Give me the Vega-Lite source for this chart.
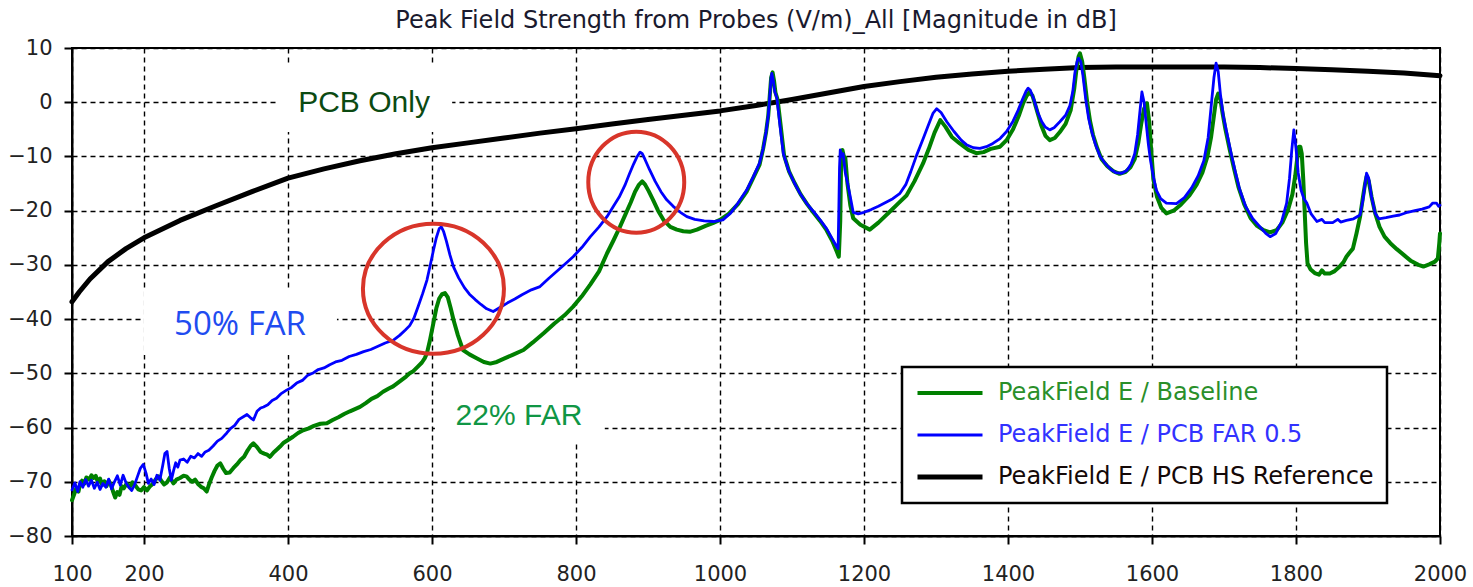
{
"$schema": "https://vega.github.io/schema/vega-lite/v6.json",
"width": 1368, "height": 488,
"autosize": {"type": "none"},
"padding": {"left": 72, "top": 48, "right": 33, "bottom": 51},
"background": "white",
"title": {"text": "Peak Field Strength from Probes (V/m)_All [Magnitude in dB]", "font": "DejaVu Sans", "fontSize": 24, "fontWeight": "normal", "color": "#1a1a2e", "anchor": "middle", "offset": 4},
"config": {
  "view": {"stroke": "#000", "strokeWidth": 2}
},
"datasets": {
"lines": [
{"s":"PeakField E / PCB HS Reference","f":100,"v":-36.8},{"s":"PeakField E / PCB HS Reference","f":110,"v":-35},{"s":"PeakField E / PCB HS Reference","f":125,"v":-32.6},{"s":"PeakField E / PCB HS Reference","f":150,"v":-29.4},{"s":"PeakField E / PCB HS Reference","f":175,"v":-27},{"s":"PeakField E / PCB HS Reference","f":200,"v":-25},{"s":"PeakField E / PCB HS Reference","f":250,"v":-21.8},{"s":"PeakField E / PCB HS Reference","f":300,"v":-19.1},{"s":"PeakField E / PCB HS Reference","f":350,"v":-16.5},{"s":"PeakField E / PCB HS Reference","f":400,"v":-14},{"s":"PeakField E / PCB HS Reference","f":450,"v":-12.3},{"s":"PeakField E / PCB HS Reference","f":500,"v":-10.8},{"s":"PeakField E / PCB HS Reference","f":550,"v":-9.5},{"s":"PeakField E / PCB HS Reference","f":600,"v":-8.4},{"s":"PeakField E / PCB HS Reference","f":650,"v":-7.5},{"s":"PeakField E / PCB HS Reference","f":700,"v":-6.6},{"s":"PeakField E / PCB HS Reference","f":750,"v":-5.7},{"s":"PeakField E / PCB HS Reference","f":800,"v":-4.9},{"s":"PeakField E / PCB HS Reference","f":850,"v":-4},{"s":"PeakField E / PCB HS Reference","f":900,"v":-3.2},{"s":"PeakField E / PCB HS Reference","f":950,"v":-2.4},{"s":"PeakField E / PCB HS Reference","f":1000,"v":-1.6},{"s":"PeakField E / PCB HS Reference","f":1050,"v":-0.6},{"s":"PeakField E / PCB HS Reference","f":1100,"v":0.5},{"s":"PeakField E / PCB HS Reference","f":1150,"v":1.7},{"s":"PeakField E / PCB HS Reference","f":1200,"v":2.9},{"s":"PeakField E / PCB HS Reference","f":1250,"v":3.8},{"s":"PeakField E / PCB HS Reference","f":1300,"v":4.6},{"s":"PeakField E / PCB HS Reference","f":1350,"v":5.2},{"s":"PeakField E / PCB HS Reference","f":1400,"v":5.7},{"s":"PeakField E / PCB HS Reference","f":1450,"v":6.1},{"s":"PeakField E / PCB HS Reference","f":1500,"v":6.4},{"s":"PeakField E / PCB HS Reference","f":1550,"v":6.5},{"s":"PeakField E / PCB HS Reference","f":1600,"v":6.5},{"s":"PeakField E / PCB HS Reference","f":1650,"v":6.5},{"s":"PeakField E / PCB HS Reference","f":1700,"v":6.5},{"s":"PeakField E / PCB HS Reference","f":1750,"v":6.4},{"s":"PeakField E / PCB HS Reference","f":1800,"v":6.2},{"s":"PeakField E / PCB HS Reference","f":1850,"v":6},{"s":"PeakField E / PCB HS Reference","f":1900,"v":5.7},{"s":"PeakField E / PCB HS Reference","f":1950,"v":5.4},{"s":"PeakField E / PCB HS Reference","f":2000,"v":4.9},

{"s":"PeakField E / Baseline","f":100,"v":-73.4},{"s":"PeakField E / Baseline","f":103,"v":-72.3},{"s":"PeakField E / Baseline","f":106,"v":-71.2},{"s":"PeakField E / Baseline","f":109,"v":-71.8},{"s":"PeakField E / Baseline","f":111,"v":-70.6},{"s":"PeakField E / Baseline","f":114,"v":-69.8},{"s":"PeakField E / Baseline","f":117,"v":-70.4},{"s":"PeakField E / Baseline","f":120,"v":-69.2},{"s":"PeakField E / Baseline","f":124,"v":-69.6},{"s":"PeakField E / Baseline","f":127,"v":-68.8},{"s":"PeakField E / Baseline","f":130,"v":-69.3},{"s":"PeakField E / Baseline","f":133,"v":-68.9},{"s":"PeakField E / Baseline","f":136,"v":-70.1},{"s":"PeakField E / Baseline","f":139,"v":-69.4},{"s":"PeakField E / Baseline","f":142,"v":-70.6},{"s":"PeakField E / Baseline","f":145,"v":-69.9},{"s":"PeakField E / Baseline","f":148,"v":-70.8},{"s":"PeakField E / Baseline","f":151,"v":-69.8},{"s":"PeakField E / Baseline","f":154,"v":-70.5},{"s":"PeakField E / Baseline","f":157,"v":-71.8},{"s":"PeakField E / Baseline","f":160,"v":-72.9},{"s":"PeakField E / Baseline","f":163,"v":-71.9},{"s":"PeakField E / Baseline","f":166,"v":-72.4},{"s":"PeakField E / Baseline","f":169,"v":-70.8},{"s":"PeakField E / Baseline","f":172,"v":-71.2},{"s":"PeakField E / Baseline","f":176,"v":-70.3},{"s":"PeakField E / Baseline","f":180,"v":-71},{"s":"PeakField E / Baseline","f":184,"v":-70.1},{"s":"PeakField E / Baseline","f":188,"v":-70.7},{"s":"PeakField E / Baseline","f":192,"v":-71.4},{"s":"PeakField E / Baseline","f":196,"v":-71.6},{"s":"PeakField E / Baseline","f":200,"v":-71},{"s":"PeakField E / Baseline","f":204,"v":-71.6},{"s":"PeakField E / Baseline","f":208,"v":-70.9},{"s":"PeakField E / Baseline","f":212,"v":-70.4},{"s":"PeakField E / Baseline","f":216,"v":-69.6},{"s":"PeakField E / Baseline","f":220,"v":-69},{"s":"PeakField E / Baseline","f":224,"v":-69.8},{"s":"PeakField E / Baseline","f":228,"v":-70.5},{"s":"PeakField E / Baseline","f":232,"v":-70.1},{"s":"PeakField E / Baseline","f":236,"v":-69.2},{"s":"PeakField E / Baseline","f":241,"v":-70.3},{"s":"PeakField E / Baseline","f":245,"v":-69.6},{"s":"PeakField E / Baseline","f":250,"v":-69.3},{"s":"PeakField E / Baseline","f":255,"v":-68.9},{"s":"PeakField E / Baseline","f":259,"v":-69},{"s":"PeakField E / Baseline","f":263,"v":-69.6},{"s":"PeakField E / Baseline","f":267,"v":-70},{"s":"PeakField E / Baseline","f":271,"v":-69.6},{"s":"PeakField E / Baseline","f":275,"v":-70.4},{"s":"PeakField E / Baseline","f":279,"v":-70.9},{"s":"PeakField E / Baseline","f":283,"v":-71.2},{"s":"PeakField E / Baseline","f":287,"v":-71.8},{"s":"PeakField E / Baseline","f":290,"v":-70.6},{"s":"PeakField E / Baseline","f":294,"v":-69.2},{"s":"PeakField E / Baseline","f":298,"v":-68},{"s":"PeakField E / Baseline","f":302,"v":-67},{"s":"PeakField E / Baseline","f":306,"v":-66.6},{"s":"PeakField E / Baseline","f":310,"v":-67.6},{"s":"PeakField E / Baseline","f":314,"v":-68.4},{"s":"PeakField E / Baseline","f":319,"v":-68.3},{"s":"PeakField E / Baseline","f":324,"v":-67.5},{"s":"PeakField E / Baseline","f":329,"v":-66.8},{"s":"PeakField E / Baseline","f":334,"v":-66},{"s":"PeakField E / Baseline","f":339,"v":-65.4},{"s":"PeakField E / Baseline","f":344,"v":-64.2},{"s":"PeakField E / Baseline","f":348,"v":-63.4},{"s":"PeakField E / Baseline","f":352,"v":-62.9},{"s":"PeakField E / Baseline","f":357,"v":-63.6},{"s":"PeakField E / Baseline","f":362,"v":-64.5},{"s":"PeakField E / Baseline","f":367,"v":-64.8},{"s":"PeakField E / Baseline","f":371,"v":-65},{"s":"PeakField E / Baseline","f":375,"v":-65.4},{"s":"PeakField E / Baseline","f":380,"v":-64.6},{"s":"PeakField E / Baseline","f":385,"v":-64},{"s":"PeakField E / Baseline","f":389,"v":-63.5},{"s":"PeakField E / Baseline","f":394,"v":-62.8},{"s":"PeakField E / Baseline","f":400,"v":-62.3},{"s":"PeakField E / Baseline","f":407,"v":-61.7},{"s":"PeakField E / Baseline","f":414,"v":-61},{"s":"PeakField E / Baseline","f":421,"v":-60.5},{"s":"PeakField E / Baseline","f":428,"v":-60.2},{"s":"PeakField E / Baseline","f":436,"v":-59.7},{"s":"PeakField E / Baseline","f":445,"v":-59.3},{"s":"PeakField E / Baseline","f":454,"v":-59.2},{"s":"PeakField E / Baseline","f":462,"v":-58.6},{"s":"PeakField E / Baseline","f":470,"v":-58.1},{"s":"PeakField E / Baseline","f":478,"v":-57.5},{"s":"PeakField E / Baseline","f":486,"v":-57},{"s":"PeakField E / Baseline","f":493,"v":-56.6},{"s":"PeakField E / Baseline","f":500,"v":-56.2},{"s":"PeakField E / Baseline","f":508,"v":-55.5},{"s":"PeakField E / Baseline","f":516,"v":-54.7},{"s":"PeakField E / Baseline","f":524,"v":-54.2},{"s":"PeakField E / Baseline","f":532,"v":-53.4},{"s":"PeakField E / Baseline","f":540,"v":-52.8},{"s":"PeakField E / Baseline","f":546,"v":-52.4},{"s":"PeakField E / Baseline","f":552,"v":-51.8},{"s":"PeakField E / Baseline","f":558,"v":-51.2},{"s":"PeakField E / Baseline","f":564,"v":-50.6},{"s":"PeakField E / Baseline","f":569,"v":-50},{"s":"PeakField E / Baseline","f":574,"v":-49.6},{"s":"PeakField E / Baseline","f":580,"v":-48.8},{"s":"PeakField E / Baseline","f":586,"v":-48},{"s":"PeakField E / Baseline","f":590,"v":-47.2},{"s":"PeakField E / Baseline","f":593,"v":-46.3},{"s":"PeakField E / Baseline","f":597,"v":-44},{"s":"PeakField E / Baseline","f":602,"v":-40.7},{"s":"PeakField E / Baseline","f":606,"v":-38},{"s":"PeakField E / Baseline","f":610,"v":-36.2},{"s":"PeakField E / Baseline","f":614,"v":-35.4},{"s":"PeakField E / Baseline","f":618,"v":-35.2},{"s":"PeakField E / Baseline","f":622,"v":-36},{"s":"PeakField E / Baseline","f":626,"v":-38},{"s":"PeakField E / Baseline","f":630,"v":-40.2},{"s":"PeakField E / Baseline","f":636,"v":-43},{"s":"PeakField E / Baseline","f":643,"v":-45.7},{"s":"PeakField E / Baseline","f":652,"v":-46.5},{"s":"PeakField E / Baseline","f":662,"v":-47.2},{"s":"PeakField E / Baseline","f":672,"v":-47.9},{"s":"PeakField E / Baseline","f":681,"v":-48.2},{"s":"PeakField E / Baseline","f":690,"v":-47.9},{"s":"PeakField E / Baseline","f":700,"v":-47.3},{"s":"PeakField E / Baseline","f":712,"v":-46.6},{"s":"PeakField E / Baseline","f":727,"v":-45.7},{"s":"PeakField E / Baseline","f":740,"v":-44.3},{"s":"PeakField E / Baseline","f":755,"v":-42.6},{"s":"PeakField E / Baseline","f":770,"v":-40.8},{"s":"PeakField E / Baseline","f":784,"v":-39.3},{"s":"PeakField E / Baseline","f":796,"v":-37.7},{"s":"PeakField E / Baseline","f":808,"v":-35.8},{"s":"PeakField E / Baseline","f":820,"v":-33.6},{"s":"PeakField E / Baseline","f":832,"v":-31.2},{"s":"PeakField E / Baseline","f":843,"v":-27.9},{"s":"PeakField E / Baseline","f":852,"v":-25.5},{"s":"PeakField E / Baseline","f":861,"v":-23},{"s":"PeakField E / Baseline","f":869,"v":-20.6},{"s":"PeakField E / Baseline","f":876,"v":-18.5},{"s":"PeakField E / Baseline","f":882,"v":-16.5},{"s":"PeakField E / Baseline","f":887,"v":-15.3},{"s":"PeakField E / Baseline","f":892,"v":-14.6},{"s":"PeakField E / Baseline","f":896,"v":-15.2},{"s":"PeakField E / Baseline","f":901,"v":-16.4},{"s":"PeakField E / Baseline","f":907,"v":-18},{"s":"PeakField E / Baseline","f":914,"v":-20},{"s":"PeakField E / Baseline","f":922,"v":-21.8},{"s":"PeakField E / Baseline","f":931,"v":-23},{"s":"PeakField E / Baseline","f":940,"v":-23.5},{"s":"PeakField E / Baseline","f":949,"v":-23.8},{"s":"PeakField E / Baseline","f":958,"v":-23.9},{"s":"PeakField E / Baseline","f":968,"v":-23.5},{"s":"PeakField E / Baseline","f":980,"v":-22.8},{"s":"PeakField E / Baseline","f":990,"v":-22.3},{"s":"PeakField E / Baseline","f":1000,"v":-21.7},{"s":"PeakField E / Baseline","f":1012,"v":-20.6},{"s":"PeakField E / Baseline","f":1025,"v":-18.8},{"s":"PeakField E / Baseline","f":1037,"v":-16.5},{"s":"PeakField E / Baseline","f":1046,"v":-14},{"s":"PeakField E / Baseline","f":1055,"v":-11.5},{"s":"PeakField E / Baseline","f":1060,"v":-8.5},{"s":"PeakField E / Baseline","f":1064,"v":-5.5},{"s":"PeakField E / Baseline","f":1067,"v":-2.5},{"s":"PeakField E / Baseline","f":1069,"v":1},{"s":"PeakField E / Baseline","f":1071,"v":4.5},{"s":"PeakField E / Baseline","f":1073,"v":5.5},{"s":"PeakField E / Baseline","f":1075,"v":4},{"s":"PeakField E / Baseline","f":1077,"v":1.8},{"s":"PeakField E / Baseline","f":1080,"v":0.5},{"s":"PeakField E / Baseline","f":1084,"v":-4},{"s":"PeakField E / Baseline","f":1089,"v":-9.8},{"s":"PeakField E / Baseline","f":1096,"v":-12.8},{"s":"PeakField E / Baseline","f":1104,"v":-15},{"s":"PeakField E / Baseline","f":1112,"v":-17},{"s":"PeakField E / Baseline","f":1121,"v":-18.8},{"s":"PeakField E / Baseline","f":1130,"v":-20.4},{"s":"PeakField E / Baseline","f":1139,"v":-21.9},{"s":"PeakField E / Baseline","f":1148,"v":-23.6},{"s":"PeakField E / Baseline","f":1156,"v":-25.6},{"s":"PeakField E / Baseline","f":1162,"v":-27.5},{"s":"PeakField E / Baseline","f":1165,"v":-28.5},{"s":"PeakField E / Baseline","f":1167,"v":-22},{"s":"PeakField E / Baseline","f":1168,"v":-13},{"s":"PeakField E / Baseline","f":1170,"v":-8.8},{"s":"PeakField E / Baseline","f":1172,"v":-10},{"s":"PeakField E / Baseline","f":1174,"v":-10.2},{"s":"PeakField E / Baseline","f":1177,"v":-15},{"s":"PeakField E / Baseline","f":1181,"v":-19},{"s":"PeakField E / Baseline","f":1185,"v":-21.4},{"s":"PeakField E / Baseline","f":1195,"v":-22.6},{"s":"PeakField E / Baseline","f":1208,"v":-23.5},{"s":"PeakField E / Baseline","f":1220,"v":-22.2},{"s":"PeakField E / Baseline","f":1235,"v":-20.3},{"s":"PeakField E / Baseline","f":1248,"v":-18.6},{"s":"PeakField E / Baseline","f":1259,"v":-17.2},{"s":"PeakField E / Baseline","f":1270,"v":-14.6},{"s":"PeakField E / Baseline","f":1282,"v":-11.3},{"s":"PeakField E / Baseline","f":1290,"v":-8.6},{"s":"PeakField E / Baseline","f":1298,"v":-5.6},{"s":"PeakField E / Baseline","f":1306,"v":-3.3},{"s":"PeakField E / Baseline","f":1313,"v":-4.5},{"s":"PeakField E / Baseline","f":1322,"v":-6.4},{"s":"PeakField E / Baseline","f":1333,"v":-7.6},{"s":"PeakField E / Baseline","f":1345,"v":-8.8},{"s":"PeakField E / Baseline","f":1356,"v":-9.4},{"s":"PeakField E / Baseline","f":1366,"v":-9.2},{"s":"PeakField E / Baseline","f":1376,"v":-8.6},{"s":"PeakField E / Baseline","f":1389,"v":-8.2},{"s":"PeakField E / Baseline","f":1398,"v":-7},{"s":"PeakField E / Baseline","f":1407,"v":-5},{"s":"PeakField E / Baseline","f":1415,"v":-2.5},{"s":"PeakField E / Baseline","f":1421,"v":-0.2},{"s":"PeakField E / Baseline","f":1426,"v":1.2},{"s":"PeakField E / Baseline","f":1430,"v":1.9},{"s":"PeakField E / Baseline","f":1434,"v":1.2},{"s":"PeakField E / Baseline","f":1439,"v":-1},{"s":"PeakField E / Baseline","f":1446,"v":-4.2},{"s":"PeakField E / Baseline","f":1452,"v":-6.2},{"s":"PeakField E / Baseline","f":1458,"v":-7},{"s":"PeakField E / Baseline","f":1465,"v":-6.6},{"s":"PeakField E / Baseline","f":1472,"v":-5.5},{"s":"PeakField E / Baseline","f":1480,"v":-4},{"s":"PeakField E / Baseline","f":1487,"v":-1.5},{"s":"PeakField E / Baseline","f":1492,"v":2.5},{"s":"PeakField E / Baseline","f":1495,"v":6},{"s":"PeakField E / Baseline","f":1498,"v":8.4},{"s":"PeakField E / Baseline","f":1500,"v":9},{"s":"PeakField E / Baseline","f":1503,"v":7.5},{"s":"PeakField E / Baseline","f":1506,"v":4.5},{"s":"PeakField E / Baseline","f":1510,"v":0},{"s":"PeakField E / Baseline","f":1514,"v":-3.5},{"s":"PeakField E / Baseline","f":1518,"v":-6},{"s":"PeakField E / Baseline","f":1524,"v":-8.5},{"s":"PeakField E / Baseline","f":1530,"v":-10.5},{"s":"PeakField E / Baseline","f":1538,"v":-11.8},{"s":"PeakField E / Baseline","f":1546,"v":-12.7},{"s":"PeakField E / Baseline","f":1555,"v":-13.2},{"s":"PeakField E / Baseline","f":1563,"v":-12.9},{"s":"PeakField E / Baseline","f":1570,"v":-12},{"s":"PeakField E / Baseline","f":1576,"v":-10.5},{"s":"PeakField E / Baseline","f":1581,"v":-7.5},{"s":"PeakField E / Baseline","f":1585,"v":-4},{"s":"PeakField E / Baseline","f":1589,"v":-1.2},{"s":"PeakField E / Baseline","f":1593,"v":-0.2},{"s":"PeakField E / Baseline","f":1596,"v":-3.5},{"s":"PeakField E / Baseline","f":1599,"v":-9},{"s":"PeakField E / Baseline","f":1602,"v":-14.3},{"s":"PeakField E / Baseline","f":1607,"v":-17.5},{"s":"PeakField E / Baseline","f":1613,"v":-19.5},{"s":"PeakField E / Baseline","f":1620,"v":-20.5},{"s":"PeakField E / Baseline","f":1630,"v":-20},{"s":"PeakField E / Baseline","f":1640,"v":-18.9},{"s":"PeakField E / Baseline","f":1652,"v":-17.2},{"s":"PeakField E / Baseline","f":1662,"v":-15.2},{"s":"PeakField E / Baseline","f":1670,"v":-13},{"s":"PeakField E / Baseline","f":1677,"v":-10},{"s":"PeakField E / Baseline","f":1682,"v":-6.5},{"s":"PeakField E / Baseline","f":1686,"v":-2.5},{"s":"PeakField E / Baseline","f":1689,"v":0.5},{"s":"PeakField E / Baseline","f":1692,"v":1.6},{"s":"PeakField E / Baseline","f":1695,"v":0.5},{"s":"PeakField E / Baseline","f":1698,"v":-2},{"s":"PeakField E / Baseline","f":1702,"v":-5},{"s":"PeakField E / Baseline","f":1708,"v":-8.8},{"s":"PeakField E / Baseline","f":1714,"v":-12.3},{"s":"PeakField E / Baseline","f":1720,"v":-15.6},{"s":"PeakField E / Baseline","f":1728,"v":-18.8},{"s":"PeakField E / Baseline","f":1737,"v":-21.4},{"s":"PeakField E / Baseline","f":1746,"v":-22.8},{"s":"PeakField E / Baseline","f":1755,"v":-23.6},{"s":"PeakField E / Baseline","f":1764,"v":-24},{"s":"PeakField E / Baseline","f":1773,"v":-23.6},{"s":"PeakField E / Baseline","f":1781,"v":-22.2},{"s":"PeakField E / Baseline","f":1789,"v":-19.8},{"s":"PeakField E / Baseline","f":1795,"v":-17},{"s":"PeakField E / Baseline","f":1799,"v":-13.5},{"s":"PeakField E / Baseline","f":1802,"v":-10},{"s":"PeakField E / Baseline","f":1804,"v":-8.2},{"s":"PeakField E / Baseline","f":1806,"v":-8.2},{"s":"PeakField E / Baseline","f":1808,"v":-9.5},{"s":"PeakField E / Baseline","f":1810,"v":-14},{"s":"PeakField E / Baseline","f":1812,"v":-20},{"s":"PeakField E / Baseline","f":1814,"v":-26},{"s":"PeakField E / Baseline","f":1816,"v":-29.7},{"s":"PeakField E / Baseline","f":1820,"v":-30.8},{"s":"PeakField E / Baseline","f":1826,"v":-31.5},{"s":"PeakField E / Baseline","f":1832,"v":-31.8},{"s":"PeakField E / Baseline","f":1836,"v":-31},{"s":"PeakField E / Baseline","f":1840,"v":-31.6},{"s":"PeakField E / Baseline","f":1847,"v":-31.6},{"s":"PeakField E / Baseline","f":1853,"v":-31.2},{"s":"PeakField E / Baseline","f":1860,"v":-30.4},{"s":"PeakField E / Baseline","f":1866,"v":-29.5},{"s":"PeakField E / Baseline","f":1870,"v":-28.5},{"s":"PeakField E / Baseline","f":1874,"v":-27.8},{"s":"PeakField E / Baseline","f":1879,"v":-27},{"s":"PeakField E / Baseline","f":1884,"v":-24.2},{"s":"PeakField E / Baseline","f":1889,"v":-21.1},{"s":"PeakField E / Baseline","f":1893,"v":-17.5},{"s":"PeakField E / Baseline","f":1896,"v":-15},{"s":"PeakField E / Baseline","f":1898,"v":-13.7},{"s":"PeakField E / Baseline","f":1901,"v":-14.5},{"s":"PeakField E / Baseline","f":1905,"v":-17.5},{"s":"PeakField E / Baseline","f":1910,"v":-20.5},{"s":"PeakField E / Baseline","f":1916,"v":-23},{"s":"PeakField E / Baseline","f":1923,"v":-24.8},{"s":"PeakField E / Baseline","f":1931,"v":-26},{"s":"PeakField E / Baseline","f":1940,"v":-27.1},{"s":"PeakField E / Baseline","f":1950,"v":-28.2},{"s":"PeakField E / Baseline","f":1960,"v":-29.3},{"s":"PeakField E / Baseline","f":1970,"v":-30},{"s":"PeakField E / Baseline","f":1977,"v":-30.3},{"s":"PeakField E / Baseline","f":1985,"v":-29.9},{"s":"PeakField E / Baseline","f":1993,"v":-29.4},{"s":"PeakField E / Baseline","f":1997,"v":-28.8},{"s":"PeakField E / Baseline","f":1999,"v":-26},{"s":"PeakField E / Baseline","f":2000,"v":-24.2},

{"s":"PeakField E / PCB FAR 0.5","f":100,"v":-71.5},{"s":"PeakField E / PCB FAR 0.5","f":104,"v":-70.2},{"s":"PeakField E / PCB FAR 0.5","f":108,"v":-71.8},{"s":"PeakField E / PCB FAR 0.5","f":111,"v":-70},{"s":"PeakField E / PCB FAR 0.5","f":115,"v":-71},{"s":"PeakField E / PCB FAR 0.5","f":119,"v":-69.6},{"s":"PeakField E / PCB FAR 0.5","f":123,"v":-70.8},{"s":"PeakField E / PCB FAR 0.5","f":127,"v":-69.7},{"s":"PeakField E / PCB FAR 0.5","f":131,"v":-71.2},{"s":"PeakField E / PCB FAR 0.5","f":135,"v":-70.1},{"s":"PeakField E / PCB FAR 0.5","f":139,"v":-71.4},{"s":"PeakField E / PCB FAR 0.5","f":143,"v":-70.3},{"s":"PeakField E / PCB FAR 0.5","f":147,"v":-71},{"s":"PeakField E / PCB FAR 0.5","f":151,"v":-69.5},{"s":"PeakField E / PCB FAR 0.5","f":155,"v":-71.3},{"s":"PeakField E / PCB FAR 0.5","f":159,"v":-70},{"s":"PeakField E / PCB FAR 0.5","f":163,"v":-68.9},{"s":"PeakField E / PCB FAR 0.5","f":167,"v":-70.6},{"s":"PeakField E / PCB FAR 0.5","f":171,"v":-68.8},{"s":"PeakField E / PCB FAR 0.5","f":175,"v":-70.2},{"s":"PeakField E / PCB FAR 0.5","f":179,"v":-71},{"s":"PeakField E / PCB FAR 0.5","f":183,"v":-71.6},{"s":"PeakField E / PCB FAR 0.5","f":187,"v":-70.5},{"s":"PeakField E / PCB FAR 0.5","f":191,"v":-69},{"s":"PeakField E / PCB FAR 0.5","f":195,"v":-67.5},{"s":"PeakField E / PCB FAR 0.5","f":199,"v":-66.8},{"s":"PeakField E / PCB FAR 0.5","f":203,"v":-68.5},{"s":"PeakField E / PCB FAR 0.5","f":206,"v":-70.3},{"s":"PeakField E / PCB FAR 0.5","f":210,"v":-69.5},{"s":"PeakField E / PCB FAR 0.5","f":214,"v":-70.5},{"s":"PeakField E / PCB FAR 0.5","f":218,"v":-68.8},{"s":"PeakField E / PCB FAR 0.5","f":222,"v":-69.7},{"s":"PeakField E / PCB FAR 0.5","f":226,"v":-67},{"s":"PeakField E / PCB FAR 0.5","f":229,"v":-64.8},{"s":"PeakField E / PCB FAR 0.5","f":232,"v":-64.4},{"s":"PeakField E / PCB FAR 0.5","f":235,"v":-67.5},{"s":"PeakField E / PCB FAR 0.5","f":238,"v":-69.7},{"s":"PeakField E / PCB FAR 0.5","f":241,"v":-68},{"s":"PeakField E / PCB FAR 0.5","f":244,"v":-66.5},{"s":"PeakField E / PCB FAR 0.5","f":247,"v":-67.3},{"s":"PeakField E / PCB FAR 0.5","f":250,"v":-66},{"s":"PeakField E / PCB FAR 0.5","f":255,"v":-65.8},{"s":"PeakField E / PCB FAR 0.5","f":260,"v":-66.4},{"s":"PeakField E / PCB FAR 0.5","f":265,"v":-65.3},{"s":"PeakField E / PCB FAR 0.5","f":270,"v":-65.6},{"s":"PeakField E / PCB FAR 0.5","f":275,"v":-64.8},{"s":"PeakField E / PCB FAR 0.5","f":280,"v":-65.3},{"s":"PeakField E / PCB FAR 0.5","f":285,"v":-64.5},{"s":"PeakField E / PCB FAR 0.5","f":290,"v":-64.2},{"s":"PeakField E / PCB FAR 0.5","f":296,"v":-63.4},{"s":"PeakField E / PCB FAR 0.5","f":302,"v":-62.5},{"s":"PeakField E / PCB FAR 0.5","f":308,"v":-62},{"s":"PeakField E / PCB FAR 0.5","f":315,"v":-61},{"s":"PeakField E / PCB FAR 0.5","f":320,"v":-60.2},{"s":"PeakField E / PCB FAR 0.5","f":326,"v":-59.6},{"s":"PeakField E / PCB FAR 0.5","f":332,"v":-58.5},{"s":"PeakField E / PCB FAR 0.5","f":338,"v":-58},{"s":"PeakField E / PCB FAR 0.5","f":343,"v":-57.6},{"s":"PeakField E / PCB FAR 0.5","f":348,"v":-58.2},{"s":"PeakField E / PCB FAR 0.5","f":352,"v":-58.6},{"s":"PeakField E / PCB FAR 0.5","f":357,"v":-57},{"s":"PeakField E / PCB FAR 0.5","f":362,"v":-56.4},{"s":"PeakField E / PCB FAR 0.5","f":366,"v":-56.2},{"s":"PeakField E / PCB FAR 0.5","f":372,"v":-55.8},{"s":"PeakField E / PCB FAR 0.5","f":378,"v":-55},{"s":"PeakField E / PCB FAR 0.5","f":384,"v":-54.6},{"s":"PeakField E / PCB FAR 0.5","f":390,"v":-53.8},{"s":"PeakField E / PCB FAR 0.5","f":398,"v":-53.1},{"s":"PeakField E / PCB FAR 0.5","f":405,"v":-52.6},{"s":"PeakField E / PCB FAR 0.5","f":412,"v":-51.8},{"s":"PeakField E / PCB FAR 0.5","f":420,"v":-51.3},{"s":"PeakField E / PCB FAR 0.5","f":427,"v":-50.4},{"s":"PeakField E / PCB FAR 0.5","f":434,"v":-50},{"s":"PeakField E / PCB FAR 0.5","f":442,"v":-49.3},{"s":"PeakField E / PCB FAR 0.5","f":450,"v":-49},{"s":"PeakField E / PCB FAR 0.5","f":458,"v":-48.4},{"s":"PeakField E / PCB FAR 0.5","f":466,"v":-47.9},{"s":"PeakField E / PCB FAR 0.5","f":475,"v":-47.6},{"s":"PeakField E / PCB FAR 0.5","f":485,"v":-46.9},{"s":"PeakField E / PCB FAR 0.5","f":495,"v":-46.5},{"s":"PeakField E / PCB FAR 0.5","f":505,"v":-46},{"s":"PeakField E / PCB FAR 0.5","f":515,"v":-45.6},{"s":"PeakField E / PCB FAR 0.5","f":525,"v":-45},{"s":"PeakField E / PCB FAR 0.5","f":535,"v":-44.4},{"s":"PeakField E / PCB FAR 0.5","f":546,"v":-43.9},{"s":"PeakField E / PCB FAR 0.5","f":555,"v":-43},{"s":"PeakField E / PCB FAR 0.5","f":563,"v":-42},{"s":"PeakField E / PCB FAR 0.5","f":569,"v":-41.2},{"s":"PeakField E / PCB FAR 0.5","f":575,"v":-39.8},{"s":"PeakField E / PCB FAR 0.5","f":581,"v":-37.6},{"s":"PeakField E / PCB FAR 0.5","f":587,"v":-35.3},{"s":"PeakField E / PCB FAR 0.5","f":593,"v":-32.8},{"s":"PeakField E / PCB FAR 0.5","f":598,"v":-29.8},{"s":"PeakField E / PCB FAR 0.5","f":602,"v":-27.3},{"s":"PeakField E / PCB FAR 0.5","f":606,"v":-25},{"s":"PeakField E / PCB FAR 0.5","f":610,"v":-23.3},{"s":"PeakField E / PCB FAR 0.5","f":613,"v":-23},{"s":"PeakField E / PCB FAR 0.5","f":616,"v":-23.8},{"s":"PeakField E / PCB FAR 0.5","f":620,"v":-25.6},{"s":"PeakField E / PCB FAR 0.5","f":625,"v":-28.2},{"s":"PeakField E / PCB FAR 0.5","f":630,"v":-30.4},{"s":"PeakField E / PCB FAR 0.5","f":637,"v":-32.4},{"s":"PeakField E / PCB FAR 0.5","f":645,"v":-34.2},{"s":"PeakField E / PCB FAR 0.5","f":652,"v":-35.4},{"s":"PeakField E / PCB FAR 0.5","f":660,"v":-36.4},{"s":"PeakField E / PCB FAR 0.5","f":668,"v":-37.3},{"s":"PeakField E / PCB FAR 0.5","f":676,"v":-38.1},{"s":"PeakField E / PCB FAR 0.5","f":685,"v":-38.6},{"s":"PeakField E / PCB FAR 0.5","f":695,"v":-37.8},{"s":"PeakField E / PCB FAR 0.5","f":705,"v":-37},{"s":"PeakField E / PCB FAR 0.5","f":715,"v":-36.3},{"s":"PeakField E / PCB FAR 0.5","f":725,"v":-35.5},{"s":"PeakField E / PCB FAR 0.5","f":738,"v":-34.6},{"s":"PeakField E / PCB FAR 0.5","f":750,"v":-34},{"s":"PeakField E / PCB FAR 0.5","f":762,"v":-32.5},{"s":"PeakField E / PCB FAR 0.5","f":775,"v":-31},{"s":"PeakField E / PCB FAR 0.5","f":786,"v":-29.7},{"s":"PeakField E / PCB FAR 0.5","f":796,"v":-28.5},{"s":"PeakField E / PCB FAR 0.5","f":808,"v":-26.8},{"s":"PeakField E / PCB FAR 0.5","f":820,"v":-24.8},{"s":"PeakField E / PCB FAR 0.5","f":832,"v":-23},{"s":"PeakField E / PCB FAR 0.5","f":843,"v":-21.1},{"s":"PeakField E / PCB FAR 0.5","f":852,"v":-19.2},{"s":"PeakField E / PCB FAR 0.5","f":860,"v":-17.5},{"s":"PeakField E / PCB FAR 0.5","f":868,"v":-15.3},{"s":"PeakField E / PCB FAR 0.5","f":874,"v":-13.3},{"s":"PeakField E / PCB FAR 0.5","f":880,"v":-11.4},{"s":"PeakField E / PCB FAR 0.5","f":885,"v":-10},{"s":"PeakField E / PCB FAR 0.5","f":889,"v":-9.2},{"s":"PeakField E / PCB FAR 0.5","f":892,"v":-9.5},{"s":"PeakField E / PCB FAR 0.5","f":896,"v":-10.6},{"s":"PeakField E / PCB FAR 0.5","f":902,"v":-12.4},{"s":"PeakField E / PCB FAR 0.5","f":910,"v":-14.6},{"s":"PeakField E / PCB FAR 0.5","f":918,"v":-16.5},{"s":"PeakField E / PCB FAR 0.5","f":926,"v":-18},{"s":"PeakField E / PCB FAR 0.5","f":935,"v":-19.2},{"s":"PeakField E / PCB FAR 0.5","f":945,"v":-20.3},{"s":"PeakField E / PCB FAR 0.5","f":954,"v":-21.1},{"s":"PeakField E / PCB FAR 0.5","f":965,"v":-21.6},{"s":"PeakField E / PCB FAR 0.5","f":978,"v":-21.9},{"s":"PeakField E / PCB FAR 0.5","f":991,"v":-22},{"s":"PeakField E / PCB FAR 0.5","f":1004,"v":-21.7},{"s":"PeakField E / PCB FAR 0.5","f":1015,"v":-20.4},{"s":"PeakField E / PCB FAR 0.5","f":1025,"v":-18.6},{"s":"PeakField E / PCB FAR 0.5","f":1037,"v":-16.2},{"s":"PeakField E / PCB FAR 0.5","f":1046,"v":-13.8},{"s":"PeakField E / PCB FAR 0.5","f":1055,"v":-11.2},{"s":"PeakField E / PCB FAR 0.5","f":1060,"v":-8.5},{"s":"PeakField E / PCB FAR 0.5","f":1064,"v":-5.5},{"s":"PeakField E / PCB FAR 0.5","f":1067,"v":-2.5},{"s":"PeakField E / PCB FAR 0.5","f":1069,"v":1},{"s":"PeakField E / PCB FAR 0.5","f":1071,"v":4.5},{"s":"PeakField E / PCB FAR 0.5","f":1072,"v":5.3},{"s":"PeakField E / PCB FAR 0.5","f":1074,"v":4},{"s":"PeakField E / PCB FAR 0.5","f":1076,"v":2},{"s":"PeakField E / PCB FAR 0.5","f":1079,"v":0.8},{"s":"PeakField E / PCB FAR 0.5","f":1083,"v":-4},{"s":"PeakField E / PCB FAR 0.5","f":1088,"v":-9.5},{"s":"PeakField E / PCB FAR 0.5","f":1095,"v":-12.5},{"s":"PeakField E / PCB FAR 0.5","f":1103,"v":-14.8},{"s":"PeakField E / PCB FAR 0.5","f":1111,"v":-16.8},{"s":"PeakField E / PCB FAR 0.5","f":1120,"v":-18.6},{"s":"PeakField E / PCB FAR 0.5","f":1130,"v":-20.2},{"s":"PeakField E / PCB FAR 0.5","f":1139,"v":-21.7},{"s":"PeakField E / PCB FAR 0.5","f":1148,"v":-23.3},{"s":"PeakField E / PCB FAR 0.5","f":1156,"v":-25.2},{"s":"PeakField E / PCB FAR 0.5","f":1162,"v":-26.6},{"s":"PeakField E / PCB FAR 0.5","f":1164,"v":-27},{"s":"PeakField E / PCB FAR 0.5","f":1165,"v":-20},{"s":"PeakField E / PCB FAR 0.5","f":1166,"v":-12},{"s":"PeakField E / PCB FAR 0.5","f":1167,"v":-8.8},{"s":"PeakField E / PCB FAR 0.5","f":1169,"v":-10},{"s":"PeakField E / PCB FAR 0.5","f":1171,"v":-9.5},{"s":"PeakField E / PCB FAR 0.5","f":1174,"v":-13},{"s":"PeakField E / PCB FAR 0.5","f":1177,"v":-14.8},{"s":"PeakField E / PCB FAR 0.5","f":1181,"v":-17.5},{"s":"PeakField E / PCB FAR 0.5","f":1185,"v":-20.3},{"s":"PeakField E / PCB FAR 0.5","f":1192,"v":-20.6},{"s":"PeakField E / PCB FAR 0.5","f":1200,"v":-20.3},{"s":"PeakField E / PCB FAR 0.5","f":1210,"v":-19.8},{"s":"PeakField E / PCB FAR 0.5","f":1220,"v":-19.2},{"s":"PeakField E / PCB FAR 0.5","f":1230,"v":-18.5},{"s":"PeakField E / PCB FAR 0.5","f":1240,"v":-17.8},{"s":"PeakField E / PCB FAR 0.5","f":1250,"v":-16.8},{"s":"PeakField E / PCB FAR 0.5","f":1258,"v":-15.2},{"s":"PeakField E / PCB FAR 0.5","f":1265,"v":-12.8},{"s":"PeakField E / PCB FAR 0.5","f":1273,"v":-9.8},{"s":"PeakField E / PCB FAR 0.5","f":1282,"v":-6.8},{"s":"PeakField E / PCB FAR 0.5","f":1290,"v":-4},{"s":"PeakField E / PCB FAR 0.5","f":1296,"v":-2},{"s":"PeakField E / PCB FAR 0.5","f":1301,"v":-1.2},{"s":"PeakField E / PCB FAR 0.5","f":1307,"v":-1.9},{"s":"PeakField E / PCB FAR 0.5","f":1315,"v":-3.6},{"s":"PeakField E / PCB FAR 0.5","f":1325,"v":-5.4},{"s":"PeakField E / PCB FAR 0.5","f":1335,"v":-7},{"s":"PeakField E / PCB FAR 0.5","f":1343,"v":-7.9},{"s":"PeakField E / PCB FAR 0.5","f":1352,"v":-8.4},{"s":"PeakField E / PCB FAR 0.5","f":1361,"v":-8.5},{"s":"PeakField E / PCB FAR 0.5","f":1370,"v":-8.2},{"s":"PeakField E / PCB FAR 0.5","f":1379,"v":-7.6},{"s":"PeakField E / PCB FAR 0.5","f":1389,"v":-6.7},{"s":"PeakField E / PCB FAR 0.5","f":1398,"v":-5.4},{"s":"PeakField E / PCB FAR 0.5","f":1407,"v":-3.5},{"s":"PeakField E / PCB FAR 0.5","f":1414,"v":-1.5},{"s":"PeakField E / PCB FAR 0.5","f":1420,"v":0.5},{"s":"PeakField E / PCB FAR 0.5","f":1425,"v":2},{"s":"PeakField E / PCB FAR 0.5","f":1428,"v":2.6},{"s":"PeakField E / PCB FAR 0.5","f":1431,"v":2.2},{"s":"PeakField E / PCB FAR 0.5","f":1436,"v":0.5},{"s":"PeakField E / PCB FAR 0.5","f":1441,"v":-1.8},{"s":"PeakField E / PCB FAR 0.5","f":1447,"v":-3.6},{"s":"PeakField E / PCB FAR 0.5","f":1452,"v":-4.6},{"s":"PeakField E / PCB FAR 0.5","f":1458,"v":-5.1},{"s":"PeakField E / PCB FAR 0.5","f":1464,"v":-4.7},{"s":"PeakField E / PCB FAR 0.5","f":1472,"v":-3.6},{"s":"PeakField E / PCB FAR 0.5","f":1480,"v":-2.4},{"s":"PeakField E / PCB FAR 0.5","f":1486,"v":-0.6},{"s":"PeakField E / PCB FAR 0.5","f":1490,"v":2},{"s":"PeakField E / PCB FAR 0.5","f":1493,"v":5.5},{"s":"PeakField E / PCB FAR 0.5","f":1496,"v":7.5},{"s":"PeakField E / PCB FAR 0.5","f":1498,"v":8.1},{"s":"PeakField E / PCB FAR 0.5","f":1501,"v":7.5},{"s":"PeakField E / PCB FAR 0.5","f":1504,"v":5},{"s":"PeakField E / PCB FAR 0.5","f":1508,"v":0.5},{"s":"PeakField E / PCB FAR 0.5","f":1512,"v":-3},{"s":"PeakField E / PCB FAR 0.5","f":1516,"v":-5.3},{"s":"PeakField E / PCB FAR 0.5","f":1521,"v":-7.6},{"s":"PeakField E / PCB FAR 0.5","f":1528,"v":-10},{"s":"PeakField E / PCB FAR 0.5","f":1535,"v":-11.3},{"s":"PeakField E / PCB FAR 0.5","f":1543,"v":-12.4},{"s":"PeakField E / PCB FAR 0.5","f":1550,"v":-13},{"s":"PeakField E / PCB FAR 0.5","f":1558,"v":-13.1},{"s":"PeakField E / PCB FAR 0.5","f":1565,"v":-12.6},{"s":"PeakField E / PCB FAR 0.5","f":1571,"v":-11.4},{"s":"PeakField E / PCB FAR 0.5","f":1576,"v":-9.5},{"s":"PeakField E / PCB FAR 0.5","f":1580,"v":-6},{"s":"PeakField E / PCB FAR 0.5","f":1583,"v":-2},{"s":"PeakField E / PCB FAR 0.5","f":1586,"v":1.9},{"s":"PeakField E / PCB FAR 0.5","f":1589,"v":0},{"s":"PeakField E / PCB FAR 0.5","f":1592,"v":-4},{"s":"PeakField E / PCB FAR 0.5","f":1595,"v":-7.8},{"s":"PeakField E / PCB FAR 0.5","f":1598,"v":-10.8},{"s":"PeakField E / PCB FAR 0.5","f":1602,"v":-13.8},{"s":"PeakField E / PCB FAR 0.5","f":1606,"v":-16.2},{"s":"PeakField E / PCB FAR 0.5","f":1612,"v":-17.8},{"s":"PeakField E / PCB FAR 0.5","f":1620,"v":-18.6},{"s":"PeakField E / PCB FAR 0.5","f":1634,"v":-18.7},{"s":"PeakField E / PCB FAR 0.5","f":1645,"v":-17.6},{"s":"PeakField E / PCB FAR 0.5","f":1655,"v":-15.8},{"s":"PeakField E / PCB FAR 0.5","f":1664,"v":-13.6},{"s":"PeakField E / PCB FAR 0.5","f":1672,"v":-10.8},{"s":"PeakField E / PCB FAR 0.5","f":1678,"v":-6.5},{"s":"PeakField E / PCB FAR 0.5","f":1683,"v":0.4},{"s":"PeakField E / PCB FAR 0.5","f":1686,"v":4.5},{"s":"PeakField E / PCB FAR 0.5","f":1689,"v":7.2},{"s":"PeakField E / PCB FAR 0.5","f":1692,"v":5.6},{"s":"PeakField E / PCB FAR 0.5","f":1695,"v":1.5},{"s":"PeakField E / PCB FAR 0.5","f":1699,"v":-2.5},{"s":"PeakField E / PCB FAR 0.5","f":1704,"v":-5.7},{"s":"PeakField E / PCB FAR 0.5","f":1710,"v":-9.5},{"s":"PeakField E / PCB FAR 0.5","f":1716,"v":-13},{"s":"PeakField E / PCB FAR 0.5","f":1722,"v":-16.2},{"s":"PeakField E / PCB FAR 0.5","f":1730,"v":-19.2},{"s":"PeakField E / PCB FAR 0.5","f":1740,"v":-21.5},{"s":"PeakField E / PCB FAR 0.5","f":1750,"v":-23},{"s":"PeakField E / PCB FAR 0.5","f":1758,"v":-24.2},{"s":"PeakField E / PCB FAR 0.5","f":1764,"v":-24.8},{"s":"PeakField E / PCB FAR 0.5","f":1772,"v":-24.2},{"s":"PeakField E / PCB FAR 0.5","f":1780,"v":-22},{"s":"PeakField E / PCB FAR 0.5","f":1787,"v":-18.6},{"s":"PeakField E / PCB FAR 0.5","f":1791,"v":-14},{"s":"PeakField E / PCB FAR 0.5","f":1794,"v":-9},{"s":"PeakField E / PCB FAR 0.5","f":1797,"v":-5.1},{"s":"PeakField E / PCB FAR 0.5","f":1800,"v":-8.5},{"s":"PeakField E / PCB FAR 0.5","f":1803,"v":-13},{"s":"PeakField E / PCB FAR 0.5","f":1807,"v":-16.2},{"s":"PeakField E / PCB FAR 0.5","f":1811,"v":-17.8},{"s":"PeakField E / PCB FAR 0.5","f":1815,"v":-18.6},{"s":"PeakField E / PCB FAR 0.5","f":1821,"v":-20.6},{"s":"PeakField E / PCB FAR 0.5","f":1829,"v":-22},{"s":"PeakField E / PCB FAR 0.5","f":1836,"v":-21.6},{"s":"PeakField E / PCB FAR 0.5","f":1840,"v":-22.2},{"s":"PeakField E / PCB FAR 0.5","f":1851,"v":-22.2},{"s":"PeakField E / PCB FAR 0.5","f":1858,"v":-21.6},{"s":"PeakField E / PCB FAR 0.5","f":1862,"v":-22.1},{"s":"PeakField E / PCB FAR 0.5","f":1870,"v":-21.8},{"s":"PeakField E / PCB FAR 0.5","f":1880,"v":-21.5},{"s":"PeakField E / PCB FAR 0.5","f":1889,"v":-20.8},{"s":"PeakField E / PCB FAR 0.5","f":1893,"v":-18},{"s":"PeakField E / PCB FAR 0.5","f":1896,"v":-15},{"s":"PeakField E / PCB FAR 0.5","f":1898,"v":-13.1},{"s":"PeakField E / PCB FAR 0.5","f":1901,"v":-14},{"s":"PeakField E / PCB FAR 0.5","f":1905,"v":-17.5},{"s":"PeakField E / PCB FAR 0.5","f":1910,"v":-20.5},{"s":"PeakField E / PCB FAR 0.5","f":1915,"v":-21.5},{"s":"PeakField E / PCB FAR 0.5","f":1925,"v":-21.3},{"s":"PeakField E / PCB FAR 0.5","f":1935,"v":-21},{"s":"PeakField E / PCB FAR 0.5","f":1944,"v":-20.8},{"s":"PeakField E / PCB FAR 0.5","f":1955,"v":-20.3},{"s":"PeakField E / PCB FAR 0.5","f":1965,"v":-20},{"s":"PeakField E / PCB FAR 0.5","f":1975,"v":-19.7},{"s":"PeakField E / PCB FAR 0.5","f":1985,"v":-19.3},{"s":"PeakField E / PCB FAR 0.5","f":1990,"v":-18.6},{"s":"PeakField E / PCB FAR 0.5","f":1995,"v":-18.6},{"s":"PeakField E / PCB FAR 0.5","f":1998,"v":-19.2},{"s":"PeakField E / PCB FAR 0.5","f":2000,"v":-19}
],
"boxes": [
{"f":385,"f2":628,"v":-5.5,"v2":6.9},
{"f":199,"f2":468,"v":-46.6,"v2":-34.6},
{"f":604,"f2":840,"v":-62.7,"v2":-51}
],
"labels": [
{"label":"PCB Only","f":505.6,"v":-1.75,"kind":"pcb"},
{"label":"50% FAR","f":333.3,"v":-42.9,"kind":"far50"},
{"label":"22% FAR","f":720.8,"v":-59.5,"kind":"far22"}
],
"rings": [
{"f":602,"v":-34.4,"ring":"a"},
{"f":883.7,"v":-14.75,"ring":"b"}
]
},
"encoding": {
  "x": {"field": "f", "type": "quantitative",
        "scale": {"domain": [100, 2000], "nice": false, "zero": false},
        "axis": {"values": [100,200,400,600,800,1000,1200,1400,1600,1800,2000], "format": "d", "title": null, "grid": true, "gridDash": [5,4], "gridColor": "#000", "gridWidth": 1.4, "gridOpacity": 1, "tickSize": 8, "tickWidth": 2, "tickColor": "#000", "domainColor": "#000", "domainWidth": 2, "labelFont": "DejaVu Sans", "labelFontSize": 21, "labelColor": "#222", "labelPadding": 19, "labelFlush": false, "labelOverlap": false}},
  "y": {"field": "v", "type": "quantitative",
        "scale": {"domain": [-80, 10], "nice": false, "zero": false},
        "axis": {"values": [-80,-70,-60,-50,-40,-30,-20,-10,0,10], "format": "d", "title": null, "grid": true, "gridDash": [5,4], "gridColor": "#000", "gridWidth": 1.4, "gridOpacity": 1, "tickSize": 8, "tickWidth": 2, "tickColor": "#000", "domainColor": "#000", "domainWidth": 2, "labelFont": "DejaVu Sans", "labelFontSize": 21, "labelColor": "#222", "labelPadding": 12, "labelFlush": false, "labelOverlap": false}}
},
"layer": [
  {"data": {"name": "boxes"}, "mark": {"type": "rect", "color": "white"},
   "encoding": {"x2": {"field": "f2"}, "y2": {"field": "v2"}}},
  {"data": {"name": "labels"}, "transform": [{"filter": "datum.kind === 'pcb'"}],
   "mark": {"type": "text", "font": "Liberation Sans", "fontSize": 30, "color": "#0b4a12", "align": "center", "baseline": "alphabetic"},
   "encoding": {"text": {"field": "label"}}},
  {"data": {"name": "labels"}, "transform": [{"filter": "datum.kind === 'far50'"}],
   "mark": {"type": "text", "font": "Open Sans", "fontSize": 33, "color": "#1f4cf0", "align": "center", "baseline": "alphabetic"},
   "encoding": {"text": {"field": "label"}}},
  {"data": {"name": "labels"}, "transform": [{"filter": "datum.kind === 'far22'"}],
   "mark": {"type": "text", "font": "Liberation Sans", "fontSize": 30, "color": "#109645", "align": "center", "baseline": "alphabetic"},
   "encoding": {"text": {"field": "label"}}},
  {"data": {"name": "lines"}, "transform": [{"filter": "datum.s === 'PeakField E / PCB HS Reference'"}],
   "mark": {"type": "line", "strokeJoin": "round", "strokeCap": "round"},
   "encoding": {
     "color": {"field": "s", "type": "nominal",
       "scale": {"domain": ["PeakField E / Baseline", "PeakField E / PCB FAR 0.5", "PeakField E / PCB HS Reference"], "range": ["#008000", "#0000ff", "#000000"]},
       "legend": {"orient": "none", "legendX": 830, "legendY": 319, "title": null, "direction": "vertical",
         "strokeColor": "#000", "fillColor": "#fff", "padding": 13, "symbolType": "stroke", "symbolSize": 4225,
         "clipHeight": 26, "rowPadding": 16,
         "labelFont": "DejaVu Sans", "labelFontSize": 24, "labelOffset": 13, "labelLimit": 0, "labelColor": "#111",
         "encoding": {
           "legend": {"strokeWidth": {"value": 2.5}},
           "symbols": {"strokeWidth": {"condition": [{"test": "datum.value === 'PeakField E / Baseline'", "value": 4}, {"test": "datum.value === 'PeakField E / PCB FAR 0.5'", "value": 2.5}], "value": 5}},
           "labels": {"fill": {"condition": [{"test": "datum.value === 'PeakField E / Baseline'", "value": "#2a8f2a"}, {"test": "datum.value === 'PeakField E / PCB FAR 0.5'", "value": "#3232ff"}], "value": "#140808"}}
         }}},
     "strokeWidth": {"field": "s", "type": "nominal", "legend": null,
       "scale": {"type": "ordinal", "domain": ["PeakField E / Baseline", "PeakField E / PCB FAR 0.5", "PeakField E / PCB HS Reference"], "range": [4, 2.8, 5]}}
   }},
  {"data": {"name": "lines"}, "transform": [{"filter": "datum.s === 'PeakField E / Baseline'"}],
   "mark": {"type": "line", "strokeJoin": "round", "strokeCap": "round"},
   "encoding": {"color": {"field": "s", "type": "nominal"},
     "strokeWidth": {"field": "s", "type": "nominal", "legend": null,
       "scale": {"type": "ordinal", "domain": ["PeakField E / Baseline", "PeakField E / PCB FAR 0.5", "PeakField E / PCB HS Reference"], "range": [4, 2.8, 5]}}}},
  {"data": {"name": "lines"}, "transform": [{"filter": "datum.s === 'PeakField E / PCB FAR 0.5'"}],
   "mark": {"type": "line", "strokeJoin": "round", "strokeCap": "round"},
   "encoding": {"color": {"field": "s", "type": "nominal"},
     "strokeWidth": {"field": "s", "type": "nominal", "legend": null,
       "scale": {"type": "ordinal", "domain": ["PeakField E / Baseline", "PeakField E / PCB FAR 0.5", "PeakField E / PCB HS Reference"], "range": [4, 2.8, 5]}}}},
  {"data": {"name": "rings"}, "transform": [{"filter": "datum.ring === 'a'"}],
   "mark": {"type": "point", "shape": "M 1 0 C 1 0.509 0.552 0.922 0 0.922 C -0.552 0.922 -1 0.509 -1 0 C -1 -0.509 -0.552 -0.922 0 -0.922 C 0.552 -0.922 1 -0.509 1 0 Z", "size": 19881, "filled": false, "stroke": "#d8352a", "strokeWidth": 4, "opacity": 1}},
  {"data": {"name": "rings"}, "transform": [{"filter": "datum.ring === 'b'"}],
   "mark": {"type": "point", "shape": "M 0.95 0 C 0.95 0.552 0.525 1 0 1 C -0.525 1 -0.95 0.552 -0.95 0 C -0.95 -0.552 -0.525 -1 0 -1 C 0.525 -1 0.95 -0.552 0.95 0 Z", "size": 10201, "filled": false, "stroke": "#d8352a", "strokeWidth": 4, "opacity": 1}}
]
}
